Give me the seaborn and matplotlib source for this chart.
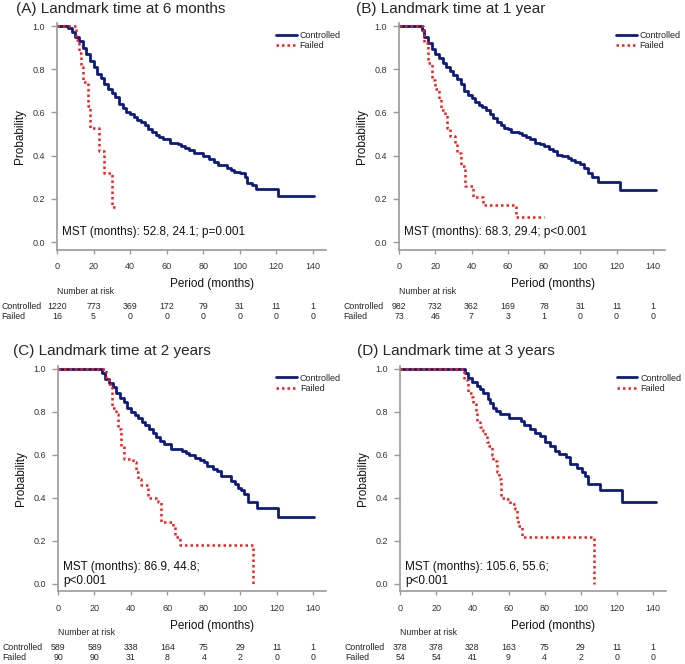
import matplotlib
matplotlib.use('Agg')
import matplotlib.pyplot as plt
from matplotlib.ticker import FormatStrFormatter
import pandas as pd
import seaborn as sns

# (A) landmark 6 months
a_ctrl_t = [0, 6, 8, 10, 12, 14, 16, 18, 20, 22, 24, 26, 28, 30, 32, 34, 36, 38, 40, 42, 44, 46, 48, 50,
            52, 54, 56, 58, 62, 66, 68, 70, 72, 75, 80, 83, 86, 88, 93, 95, 97, 100, 103, 104, 106.5, 109, 121, 140.5]
a_ctrl_s = [1.0, 0.99, 0.97, 0.95, 0.93, 0.90, 0.87, 0.84, 0.81, 0.78, 0.76, 0.73, 0.71, 0.69, 0.67, 0.64, 0.62,
            0.60, 0.595, 0.58, 0.565, 0.555, 0.54, 0.525, 0.51, 0.495, 0.485, 0.475, 0.46, 0.455, 0.445, 0.435,
            0.425, 0.41, 0.40, 0.385, 0.37, 0.355, 0.345, 0.335, 0.325, 0.32, 0.30, 0.275, 0.265, 0.245, 0.215, 0.215]
a_fail_t = [0, 10.6, 12, 13, 14, 17, 18, 23, 26, 30, 32.5]
a_fail_s = [1.0, 0.9375, 0.875, 0.8125, 0.74, 0.63, 0.53, 0.42, 0.32, 0.16, 0.16]
a_risk_ctrl = [1220, 773, 369, 172, 79, 31, 11, 1]
a_risk_fail = [16, 5, 0, 0, 0, 0, 0, 0]

# (B) landmark 1 year
b_ctrl_t = [0, 12.5, 14, 16, 18, 20, 22, 24, 26, 28, 30, 32, 34, 36, 38, 40, 42, 44, 46, 48, 50, 52, 54, 56,
            58, 60, 62, 66, 68, 70, 72, 75, 78, 80, 83, 85, 87, 90, 93, 95, 97, 100, 102, 104.5, 106.5, 109.5,
            122, 141.5]
b_ctrl_s = [1.0, 0.98, 0.95, 0.92, 0.895, 0.87, 0.85, 0.83, 0.81, 0.79, 0.775, 0.755, 0.73, 0.70, 0.68, 0.665,
            0.65, 0.635, 0.625, 0.61, 0.595, 0.575, 0.555, 0.54, 0.53, 0.525, 0.51, 0.505, 0.495, 0.485, 0.475,
            0.46, 0.455, 0.445, 0.43, 0.42, 0.405, 0.40, 0.39, 0.38, 0.37, 0.36, 0.345, 0.32, 0.30, 0.28,
            0.24, 0.24]
b_fail_t = [0, 13, 14, 16, 18, 19.6, 22, 23.3, 25.2, 26.5, 28, 30.7, 32, 34, 36.2, 40.8, 46.3, 64.7, 80]
b_fail_s = [1.0, 0.96, 0.92, 0.83, 0.75, 0.71, 0.66, 0.61, 0.59, 0.53, 0.49, 0.455, 0.41, 0.35, 0.26, 0.21,
            0.17, 0.115, 0.115]
b_risk_ctrl = [982, 732, 362, 169, 78, 31, 11, 1]
b_risk_fail = [73, 46, 7, 3, 1, 0, 0, 0]

# (C) landmark 2 years
c_ctrl_t = [0, 24, 26, 28, 30, 32, 34, 36, 38, 40, 42, 44, 46, 48, 50, 52, 54, 56, 58, 62, 68, 70, 72, 75,
            78, 80, 82, 85, 87, 89.5, 95, 97, 99, 100.5, 102, 104.3, 109.3, 121, 140.5]
c_ctrl_s = [1.0, 0.98, 0.955, 0.935, 0.915, 0.89, 0.865, 0.845, 0.82, 0.80, 0.785, 0.77, 0.755, 0.74, 0.72,
            0.70, 0.685, 0.665, 0.65, 0.63, 0.62, 0.61, 0.60, 0.585, 0.575, 0.565, 0.55, 0.535, 0.525, 0.50,
            0.48, 0.465, 0.445, 0.435, 0.42, 0.38, 0.355, 0.31, 0.31]
c_fail_t = [0, 26.5, 28.4, 29.8, 32, 33, 34.8, 36, 41, 42.6, 44, 45.8, 49.4, 55, 56.4, 63, 64, 66.8, 107]
c_fail_s = [1.0, 0.95, 0.92, 0.82, 0.79, 0.72, 0.64, 0.58, 0.565, 0.52, 0.49, 0.46, 0.40, 0.38, 0.29, 0.27,
            0.22, 0.18, 0.0]
c_risk_ctrl = [589, 589, 338, 164, 75, 29, 11, 1]
c_risk_fail = [90, 90, 31, 8, 4, 2, 0, 0]

# (D) landmark 3 years
d_ctrl_t = [0, 35.9, 37.8, 39.6, 42.4, 44, 46, 48.8, 50, 51.6, 53, 55.2, 60, 67, 68.5, 72, 74.6, 77.3, 80, 83,
            85.6, 88, 92, 94, 97.6, 100.4, 102.5, 104, 110.5, 122.5, 141.8]
d_ctrl_s = [1.0, 0.98, 0.96, 0.94, 0.92, 0.905, 0.89, 0.86, 0.84, 0.82, 0.805, 0.79, 0.77, 0.76, 0.74, 0.72,
            0.70, 0.69, 0.66, 0.64, 0.62, 0.605, 0.59, 0.56, 0.54, 0.52, 0.50, 0.465, 0.435, 0.38, 0.38]
d_fail_t = [0, 35.5, 37.8, 39.6, 40.5, 42, 42.7, 44.2, 45.7, 47, 47.9, 49.4, 50.6, 51.6, 53.8, 54.9, 55.8, 58,
            60.8, 63.5, 64.5, 65.4, 67.2, 107.2]
d_fail_s = [1.0, 0.95, 0.89, 0.87, 0.84, 0.80, 0.76, 0.73, 0.71, 0.69, 0.66, 0.64, 0.60, 0.57, 0.52, 0.49, 0.40,
            0.395, 0.37, 0.35, 0.30, 0.27, 0.22, 0.0]
d_risk_ctrl = [378, 378, 328, 163, 75, 29, 11, 1]
d_risk_fail = [54, 54, 41, 9, 4, 2, 0, 0]

titles = ['(A) Landmark time at 6 months', '(B) Landmark time at 1 year',
          '(C) Landmark time at 2 years', '(D) Landmark time at 3 years']
mst_texts = ['MST (months): 52.8, 24.1; p=0.001', 'MST (months): 68.3, 29.4; p<0.001',
             'MST (months): 86.9, 44.8;\np<0.001', 'MST (months): 105.6, 55.6;\np<0.001']
risk_times = [0, 20, 40, 60, 80, 100, 120, 140]

sns.set_theme(style='ticks')
plt.rcParams['font.family'] = ['Liberation Sans', 'DejaVu Sans']

NAVY = '#0d1a80'
RED = '#ff1a1a'
GREY = '#9a9a9a'

fig = plt.figure(figsize=(6.85, 6.64), dpi=100)

panels = [
    ([0.0832, 0.6241, 0.392, 0.3416], (16, 13), a_ctrl_t, a_ctrl_s, a_fail_t, a_fail_s, a_risk_ctrl, a_risk_fail),
    ([0.5825, 0.6241, 0.389, 0.3416], (356, 13), b_ctrl_t, b_ctrl_s, b_fail_t, b_fail_s, b_risk_ctrl, b_risk_fail),
    ([0.0847, 0.1092, 0.391, 0.340], (13, 355), c_ctrl_t, c_ctrl_s, c_fail_t, c_fail_s, c_risk_ctrl, c_risk_fail),
    ([0.584, 0.1092, 0.388, 0.340], (357, 355), d_ctrl_t, d_ctrl_s, d_fail_t, d_fail_s, d_risk_ctrl, d_risk_fail),
]

for i, (pos, tpos, ct, cs, ft, fs, rc, rf) in enumerate(panels):
    ax = fig.add_axes(pos)
    ctrl = pd.DataFrame({'month': ct, 'prob': cs})
    fail = pd.DataFrame({'month': ft, 'prob': fs})
    sns.lineplot(data=ctrl, x='month', y='prob', ax=ax, drawstyle='steps-post', estimator=None,
                 color=NAVY, lw=2.0, label='Controlled')
    sns.lineplot(data=fail, x='month', y='prob', ax=ax, drawstyle='steps-post', estimator=None,
                 color=RED, lw=1.8, ls=(0, (1, 1.2)), label='Failed')

    ax.set_xlim(0, 147)
    ax.set_ylim(-0.035, 1.015)
    ax.set_xticks(risk_times)
    ax.set_yticks([0, 0.2, 0.4, 0.6, 0.8, 1.0])
    ax.yaxis.set_major_formatter(FormatStrFormatter('%.1f'))
    sns.despine(ax=ax)
    for side in ['left', 'bottom']:
        ax.spines[side].set_color(GREY)
        ax.spines[side].set_linewidth(1.2)
    ax.tick_params(axis='both', colors=GREY, labelcolor='#333333', labelsize=6.5, width=1)
    ax.tick_params(axis='x', length=3, pad=6)
    ax.tick_params(axis='y', length=4.5, pad=4)

    ax.set_xlabel('Period (months)', fontsize=8.5, color='#111111')
    ax.xaxis.set_label_coords(0.577, -0.125)
    ax.set_ylabel('Probability', fontsize=8.5, color='#111111')
    ax.yaxis.set_label_coords(-0.115, 0.5)

    ax.legend(loc='upper left', bbox_to_anchor=(0.815, 0.965), frameon=False, fontsize=6.5,
              handlelength=2.3, handletextpad=0.3, labelspacing=0.15, borderpad=0, borderaxespad=0)

    ax.text(3, 0.045, mst_texts[i], fontsize=8.5, va='center', ha='left', color='#111111', linespacing=1.2)

    fig.text(tpos[0] / 685, 1 - tpos[1] / 664, titles[i], fontsize=11, va='baseline', ha='left')

    trans = ax.get_xaxis_transform()
    ax.text(0, -0.183, 'Number at risk', transform=trans, fontsize=6.3, ha='left', va='center', clip_on=False)
    ax.text(-30.5, -0.25, 'Controlled', transform=trans, fontsize=6.3, ha='left', va='center', clip_on=False)
    ax.text(-30.5, -0.294, 'Failed', transform=trans, fontsize=6.3, ha='left', va='center', clip_on=False)
    for x, n1, n2 in zip(risk_times, rc, rf):
        ax.text(x, -0.25, str(n1), transform=trans, fontsize=6.3, ha='center', va='center', clip_on=False)
        ax.text(x, -0.294, str(n2), transform=trans, fontsize=6.3, ha='center', va='center', clip_on=False)

fig.savefig('out.png', dpi=100)
